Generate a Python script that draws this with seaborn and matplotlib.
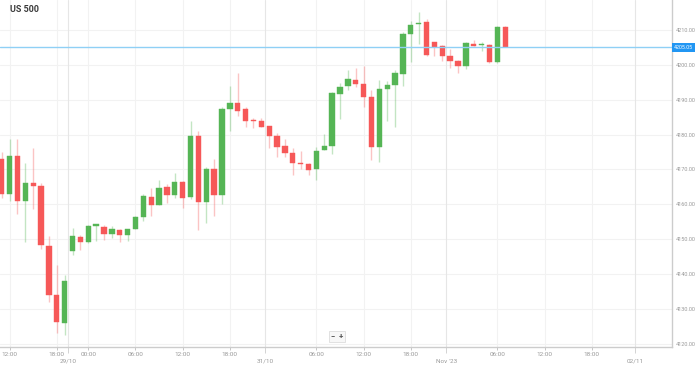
import numpy as np
import pandas as pd
import matplotlib
matplotlib.use('Agg')
import matplotlib.pyplot as plt
import matplotlib.transforms as mtransforms
import seaborn as sns

# hourly candles, US 500
opens = [4173.1, 4162.9, 4173.8, 4161.1, 4166.0, 4165.2, 4148.2, 4134.0, 4126.0, 4146.7,
         4150.6, 4149.1, 4153.9, 4153.6, 4151.6, 4152.6, 4151.1, 4153.0, 4156.4, 4162.2,
         4159.8, 4165.1, 4162.6, 4166.4, 4162.2, 4179.5, 4160.7, 4170.0, 4162.7, 4187.3,
         4189.0, 4187.4, 4184.1, 4183.8, 4182.4, 4179.7, 4176.7, 4174.8, 4171.7, 4171.6,
         4170.0, 4175.5, 4176.7, 4191.6, 4193.8, 4195.7, 4194.5, 4190.9, 4176.4, 4193.1,
         4194.3, 4197.3, 4208.8, 4211.6, 4212.2, 4206.7, 4205.5, 4202.4, 4201.1, 4199.7,
         4206.1, 4205.6, 4205.7, 4200.9, 4210.9]
highs = [4175.1, 4178.6, 4178.6, 4171.9, 4176.2, 4166.2, 4150.8, 4142.6, 4139.8, 4153.3,
         4151.1, 4154.0, 4154.5, 4154.0, 4153.8, 4152.9, 4153.0, 4156.8, 4162.9, 4164.6,
         4167.1, 4165.8, 4169.0, 4166.7, 4184.0, 4180.9, 4170.8, 4173.1, 4187.8, 4193.8,
         4197.6, 4188.0, 4184.9, 4184.9, 4182.6, 4180.5, 4178.8, 4176.1, 4175.2, 4172.0,
         4176.5, 4180.3, 4192.2, 4194.8, 4198.6, 4199.2, 4199.7, 4192.9, 4195.7, 4195.4,
         4198.5, 4209.5, 4212.7, 4215.2, 4213.1, 4206.7, 4205.7, 4204.5, 4201.5, 4206.5,
         4207.1, 4206.7, 4206.0, 4211.2, 4211.2]
lows = [4161.9, 4161.1, 4157.1, 4149.3, 4158.8, 4147.3, 4131.9, 4123.1, 4122.6, 4145.5,
        4146.9, 4149.0, 4149.5, 4149.8, 4150.3, 4149.3, 4149.5, 4152.9, 4155.1, 4156.7,
        4159.8, 4160.5, 4161.9, 4158.9, 4161.4, 4152.7, 4154.6, 4156.7, 4160.0, 4180.9,
        4185.2, 4182.2, 4181.9, 4182.2, 4176.2, 4173.5, 4173.6, 4168.4, 4170.2, 4168.5,
        4167.1, 4175.5, 4174.5, 4184.6, 4192.9, 4193.6, 4187.9, 4172.7, 4172.1, 4184.0,
        4182.1, 4193.8, 4200.9, 4205.9, 4202.4, 4202.4, 4201.2, 4199.2, 4197.8, 4198.8,
        4205.5, 4204.1, 4200.5, 4200.5, 4205.05]
closes = [4162.9, 4173.8, 4161.1, 4166.2, 4165.4, 4148.3, 4134.1, 4126.2, 4138.1, 4150.8,
          4149.3, 4153.8, 4154.1, 4151.4, 4152.9, 4151.1, 4152.9, 4156.5, 4162.4, 4159.8,
          4164.8, 4162.6, 4166.4, 4161.9, 4179.5, 4160.8, 4170.0, 4162.6, 4187.3, 4189.0,
          4186.9, 4183.8, 4183.9, 4182.2, 4179.5, 4176.5, 4174.8, 4171.9, 4171.5, 4169.8,
          4175.4, 4176.7, 4191.9, 4193.6, 4195.9, 4194.6, 4190.9, 4176.4, 4193.1, 4194.3,
          4197.6, 4208.8, 4211.4, 4212.1, 4202.9, 4205.2, 4202.6, 4201.2, 4199.7, 4206.2,
          4205.5, 4205.8, 4200.9, 4210.9, 4205.05]

last_price = 4205.05

hour_ticks = [1, 7, 11, 17, 23, 29, 40, 46, 52, 63, 69, 75]
hour_labels = ['12:00', '18:00', '00:00', '06:00', '12:00', '18:00',
               '06:00', '12:00', '18:00', '06:00', '12:00', '18:00']
date_ticks = [8.42, 33.5, 56.5, 80.5]
date_labels = ['29/10', '31/10', "Nov '23", '02/11']
price_ticks = [4120, 4130, 4140, 4150, 4160, 4170, 4180, 4190, 4200, 4210]

df = pd.DataFrame({'open': opens, 'high': highs, 'low': lows, 'close': closes})
df['x'] = np.arange(len(df))
df['up'] = df['close'] >= df['open']
df['body_lo'] = df[['open', 'close']].min(axis=1)
df['body_h'] = (df['close'] - df['open']).abs().clip(lower=0.35)

sns.set_theme(style='white')
plt.rcParams['font.family'] = ['Roboto', 'DejaVu Sans']

green = '#55b555'
red = '#f65858'

fig = plt.figure(figsize=(6.99, 3.66), dpi=100)
ax = fig.add_axes([0, 19 / 366, 672 / 699, 347 / 366])

# grid
for p in price_ticks:
    ax.axhline(p, color='#f2f2f2', lw=0.8, zorder=0)
for t in hour_ticks:
    ax.axvline(t, color='#f2f2f2', lw=0.8, zorder=0)
for t in date_ticks:
    ax.axvline(t, color='#e6e6e6', lw=0.8, zorder=0)

# wicks + bodies
for up, sub in df.groupby('up'):
    col = green if up else red
    ax.vlines(sub['x'], sub['low'], sub['high'], color=col, alpha=0.35, lw=1.0, zorder=2)
    ax.bar(sub['x'], sub['body_h'], bottom=sub['body_lo'], width=0.68,
           color=col, edgecolor=col, linewidth=0.3, zorder=3)

# last price line
ax.axhline(last_price, color='#8fd0f5', lw=1.0, zorder=4)
trans = mtransforms.blended_transform_factory(ax.transAxes, ax.transData)
ax.text(1.003, last_price, f'{last_price:.2f}', transform=trans, ha='left', va='center',
        fontsize=3.8, color='white', clip_on=False,
        bbox=dict(boxstyle='square,pad=0.35', fc='#2196f3', ec='none'))

ax.set_xlim(-0.22, 85.2)
ax.set_ylim(4119.1, 4218.6)

ax.yaxis.tick_right()
ax.set_yticks(price_ticks)
ax.set_yticklabels([f'{p:.2f}' for p in price_ticks])
ax.tick_params(axis='y', length=0, pad=3, labelsize=4, labelcolor='#999999')

ax.set_xticks(hour_ticks)
ax.set_xticklabels(hour_labels)
ax.set_xticks(date_ticks, minor=True)
ax.set_xticklabels(date_labels, minor=True)
ax.tick_params(axis='x', which='major', length=2, width=0.6, color='#bbbbbb',
               pad=1.5, labelsize=4.6, labelcolor='#999999', bottom=True)
ax.tick_params(axis='x', which='minor', length=4, width=0.6, color='#cccccc',
               pad=4.5, labelsize=4.6, labelcolor='#999999', bottom=True)

for side in ['top', 'left']:
    ax.spines[side].set_visible(False)
for side in ['right', 'bottom']:
    ax.spines[side].set_color('#cccccc')
    ax.spines[side].set_linewidth(1.0)

ax.text(10 / 672, 1 - 10 / 347, 'US 500', transform=ax.transAxes, fontsize=6.5,
        fontweight='bold', color='#3a3a3a', ha='left', va='center')

# zoom buttons
ax.text(337 / 672, 10.5 / 347, '\u2212  +', transform=ax.transAxes, fontsize=5.5,
        fontweight='bold', color='#555555', ha='center', va='center',
        bbox=dict(boxstyle='square,pad=0.3', fc='#f7f7f7', ec='#dddddd', lw=0.6))

fig.savefig('out.png', dpi=100)
